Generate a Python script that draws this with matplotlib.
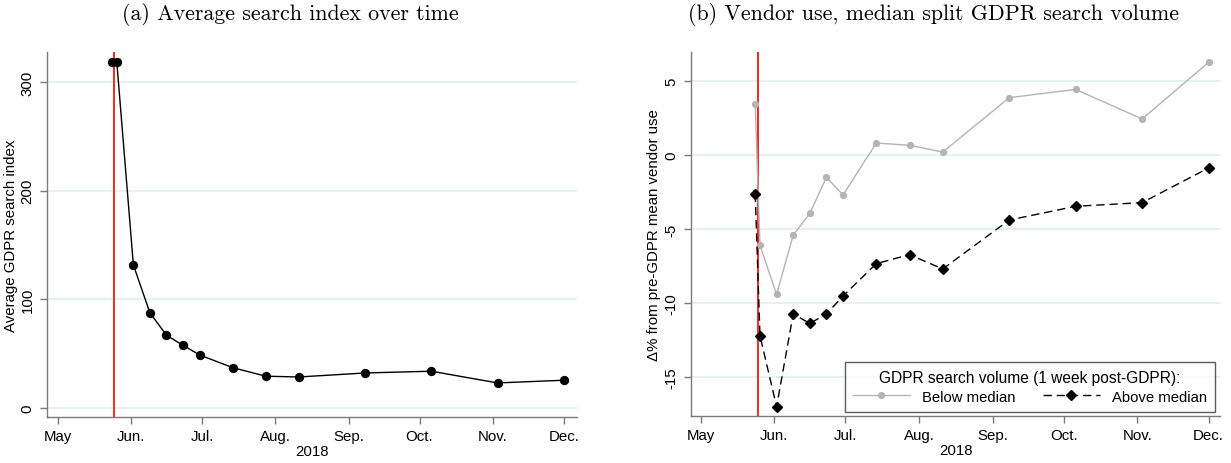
import numpy as np
import matplotlib
matplotlib.use("Agg")
import matplotlib.pyplot as plt
import matplotlib.dates as mdates
from matplotlib.lines import Line2D

# Weekly observation dates (2018)
dates = np.array(['2018-05-24', '2018-05-26', '2018-06-02', '2018-06-09', '2018-06-16',
                  '2018-06-23', '2018-06-30', '2018-07-14', '2018-07-28', '2018-08-11',
                  '2018-09-08', '2018-10-06', '2018-11-03', '2018-12-01'], dtype='datetime64[D]')

# (a) average GDPR search index
search_index = [318.4, 318.4, 131.6, 87.4, 66.8, 57.5, 48.6, 36.9, 29.0, 28.3,
                32.0, 33.6, 22.8, 25.3]

# (b) % change in vendor use, split by GDPR search volume
below_median = [3.43, -6.11, -9.43, -5.43, -3.95, -1.51, -2.71, 0.81, 0.66, 0.20,
                3.88, 4.44, 2.44, 6.27]
above_median = [-2.62, -12.22, -17.03, -10.76, -11.39, -10.76, -9.54, -7.35, -6.74, -7.71,
                -4.40, -3.47, -3.22, -0.88]

gdpr_date = np.datetime64('2018-05-25')
month_ticks = np.array(['2018-05-01', '2018-06-01', '2018-07-01', '2018-08-01', '2018-09-01',
                        '2018-10-01', '2018-11-01', '2018-12-01'], dtype='datetime64[D]')
month_labels = ['May', 'Jun.', 'Jul.', 'Aug.', 'Sep.', 'Oct.', 'Nov.', 'Dec.']

plt.rcParams['font.family'] = ['Liberation Sans', 'DejaVu Sans']
plt.rcParams['axes.unicode_minus'] = False

W, H = 1231, 464
fig = plt.figure(figsize=(W / 100, H / 100), dpi=100)

def px_axes(l, r, t, b):
    return fig.add_axes([l / W, 1 - b / H, (r - l) / W, (b - t) / H])

ax_a = px_axes(47.4, 577.3, 53.3, 418.0)
ax_b = px_axes(690.9, 1220.2, 53.3, 417.3)

spine_col = '#7a7a7a'
grid_col = '#e4eef0'
FS = 10.8

def style(ax, yticks, ylabel, xlim, ylim):
    ax.set_xlim(mdates.date2num(np.datetime64(xlim[0], 'm')), mdates.date2num(np.datetime64(xlim[1], 'm')))
    ax.set_ylim(*ylim)
    for s in ('top', 'right'):
        ax.spines[s].set_visible(False)
    for s in ('left', 'bottom'):
        ax.spines[s].set_color(spine_col)
        ax.spines[s].set_linewidth(1.0)
    ax.set_yticks(yticks)
    ax.set_yticklabels([str(v) for v in yticks], rotation=90, va='center')
    ax.set_xticks(mdates.date2num(month_ticks))
    ax.set_xticklabels(month_labels)
    ax.tick_params(axis='both', colors=spine_col, labelcolor='black', labelsize=FS,
                   length=5, width=1.0, direction='out')
    ax.tick_params(axis='y', pad=4.2)
    ax.yaxis.grid(True, color=grid_col, linewidth=1.2)
    ax.set_axisbelow(True)
    ax.set_xlabel('2018', fontsize=FS, labelpad=1)
    ax.set_ylabel(ylabel, fontsize=FS, labelpad=2)
    ax.axvline(mdates.date2num(gdpr_date), color='red', linewidth=1.2, zorder=1.5)

x = mdates.date2num(dates)

# Panel (a)
style(ax_a, [0, 100, 200, 300], 'Average GDPR search index',
      ('2018-04-26T15:36', '2018-12-06T17:00'), (-8.6, 327.6))
ax_a.plot(x, search_index, color='black', linewidth=1.0, marker='o', markersize=5.7, zorder=3)

# Panel (b)
style(ax_b, [-15, -10, -5, 0, 5], 'Δ% from pre-GDPR mean vendor use',
      ('2018-04-26T21:36', '2018-12-05T21:36'), (-17.68, 6.95))
ax_b.plot(x, below_median, color='#b4b4b4', linewidth=1.0, marker='o', markersize=4.2, zorder=3)
ax_b.plot(x, above_median, color='black', linewidth=1.0, linestyle=(0, (6, 3.5)),
          marker='D', markersize=5, zorder=3.5)

handles = [Line2D([], [], color='#b4b4b4', linewidth=1.0, marker='o', markersize=4.2),
           Line2D([], [], color='black', linewidth=1.0, linestyle=(0, (6, 3.5)),
                  marker='D', markersize=5)]
leg = ax_b.legend(handles, ['Below median', 'Above median'], ncol=2,
                  title='GDPR search volume (1 week post-GDPR):',
                  loc='lower right', bbox_to_anchor=(0.99, 0.0126), borderaxespad=0,
                  fontsize=10.7, title_fontsize=11.2, handlelength=3.8, columnspacing=1.9,
                  handletextpad=0.8, frameon=True, fancybox=False, borderpad=0.55,
                  labelspacing=0.3)
leg.get_frame().set_edgecolor('#333333')
leg.get_frame().set_linewidth(1.0)

# Panel titles
fig.text(290.6 / W, 1 - 14 / H, '(a) Average search index over time', family='cmr10',
         fontsize=15.8, ha='center', va='center')
fig.text(933.7 / W, 1 - 14 / H, '(b) Vendor use, median split GDPR search volume', family='cmr10',
         fontsize=15.8, ha='center', va='center')

fig.savefig('out.png', dpi=100)
